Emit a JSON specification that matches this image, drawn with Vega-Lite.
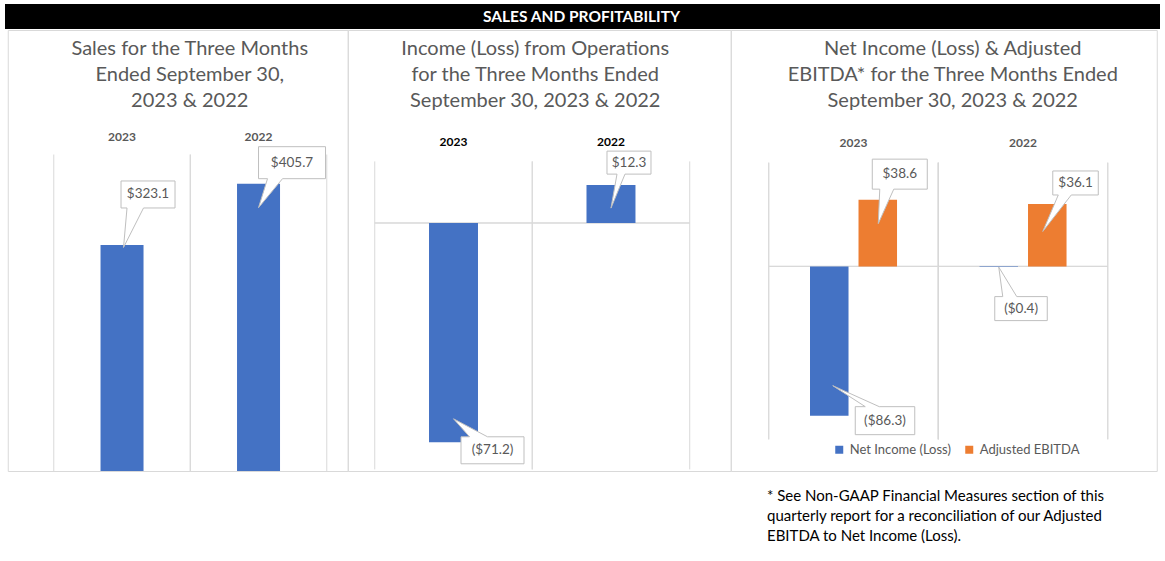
{
  "$schema": "https://vega.github.io/schema/vega-lite/v6.json",
  "background": "white",
  "padding": {"left": 5, "top": 4, "right": 5, "bottom": 5},
  "config": {
    "font": "Lato",
    "view": {"stroke": "#d9d9d9", "strokeWidth": 1},
    "axis": {"labelFont": "Lato"},
    "legend": {"labelFont": "Lato"}
  },
  "title": {
    "text": ["* See Non-GAAP Financial Measures section of this", "quarterly report for a reconciliation of our Adjusted", "EBITDA to Net Income (Loss)."],
    "orient": "bottom",
    "anchor": "start",
    "align": "left",
    "frame": "group",
    "dx": 762,
    "offset": 17,
    "baseline": "top",
    "font": "Lato",
    "fontSize": 15,
    "fontWeight": "normal",
    "color": "#000000",
    "lineHeight": 20
  },
  "spacing": 0,
  "center": true,
  "resolve": {"legend": {"color": "independent"}},
  "vconcat": [
    {
      "width": 1155,
      "height": 25,
      "view": {"fill": "#000000", "stroke": null},
      "data": {"values": [{"t": "SALES AND PROFITABILITY"}]},
      "mark": {"type": "text", "fill": "#ffffff", "font": "Lato", "fontWeight": "bold", "fontSize": 15.5, "baseline": "middle", "align": "center", "dx": -1},
      "encoding": {"text": {"field": "t", "type": "nominal"}}
    },
    {
      "resolve": {"legend": {"color": "independent"}},
      "hconcat": [
        {
          "width": 340,
          "height": 441,
          "view": {"stroke": "#d9d9d9"},
          "title": {
            "text": ["Sales for the Three Months", "Ended September 30,", "2023 & 2022"],
            "offset": -81, "baseline": "top", "lineHeight": 26, "fontSize": 20, "font": "Lato",
            "fontWeight": "normal", "color": "#595959", "anchor": "middle", "dx": 12
          },
          "data": {"values": [{"year": "2023", "value": 323.1}, {"year": "2022", "value": 405.7}]},
          "layer": [
            {
              "mark": {"type": "rule", "color": "#d9d9d9", "clip": true},
              "encoding": {
                "x": {"field": "year", "type": "nominal", "bandPosition": 0, "scale": {"domain": ["2023", "2022"], "paddingInner": 0, "paddingOuter": 0.2454, "align": 0.687},
                  "axis": {"orient": "top", "title": null, "ticks": false, "tickSize": 0, "domain": false, "grid": false, "labelAngle": 0, "labelBaseline": "middle", "labelPadding": 0, "offset": -106, "labelFontSize": 12, "labelFontWeight": "bold", "labelColor": "#595959"}},
                "y": {"datum": 445, "type": "quantitative", "scale": {"domain": [18.5, 612.8], "nice": false, "zero": false}, "axis": null},
                "y2": {"datum": 0}
              }
            },
            {
              "mark": {"type": "rule", "color": "#d9d9d9", "clip": true},
              "encoding": {
                "x": {"field": "year", "type": "nominal", "bandPosition": 1, "scale": {"domain": ["2023", "2022"], "paddingInner": 0, "paddingOuter": 0.2454, "align": 0.687}},
                "y": {"datum": 445, "type": "quantitative", "scale": {"domain": [18.5, 612.8], "nice": false, "zero": false}, "axis": null},
                "y2": {"datum": 0}
              }
            },
            {
              "mark": {"type": "bar", "color": "#4472C4", "width": {"band": 0.315}, "clip": true},
              "encoding": {
                "x": {"field": "year", "type": "nominal", "scale": {"domain": ["2023", "2022"], "paddingInner": 0, "paddingOuter": 0.2454, "align": 0.687}},
                "y": {"field": "value", "type": "quantitative", "scale": {"domain": [18.5, 612.8], "nice": false, "zero": false}, "axis": null}
              }
            },
            {
              "transform": [{"filter": "datum.year == '2023'"}],
              "encoding": {
                "x": {"field": "year", "type": "nominal", "scale": {"domain": ["2023", "2022"], "paddingInner": 0, "paddingOuter": 0.2454, "align": 0.687}},
                "y": {"field": "value", "type": "quantitative", "scale": {"domain": [18.5, 612.8], "nice": false, "zero": false}, "axis": null}
              },
              "layer": [
                {"mark": {"type": "point", "shape": "M-1,-64H53V-37H21.5L1.5,2.5L5,-37H-1Z", "size": 4, "filled": true, "fill": "#ffffff", "stroke": "#bfbfbf", "strokeWidth": 1, "opacity": 1}},
                {"mark": {"type": "text", "dx": 26, "dy": -50.5, "align": "center", "baseline": "middle", "fontSize": 13.5, "font": "Lato", "fill": "#595959"},
                 "encoding": {"text": {"field": "value", "type": "quantitative", "format": "($.1f"}}}
              ]
            },
            {
              "transform": [{"filter": "datum.year == '2022'"}],
              "encoding": {
                "x": {"field": "year", "type": "nominal", "scale": {"domain": ["2023", "2022"], "paddingInner": 0, "paddingOuter": 0.2454, "align": 0.687}},
                "y": {"field": "value", "type": "quantitative", "scale": {"domain": [18.5, 612.8], "nice": false, "zero": false}, "axis": null}
              },
              "layer": [
                {"mark": {"type": "point", "shape": "M0,-37H67V-5H24L0,24L9,-5H0Z", "size": 4, "filled": true, "fill": "#ffffff", "stroke": "#bfbfbf", "strokeWidth": 1, "opacity": 1}},
                {"mark": {"type": "text", "dx": 33.5, "dy": -21, "align": "center", "baseline": "middle", "fontSize": 13.5, "font": "Lato", "fill": "#595959"},
                 "encoding": {"text": {"field": "value", "type": "quantitative", "format": "($.1f"}}}
              ]
            }
          ]
        },
        {
          "width": 383,
          "height": 441,
          "view": {"stroke": "#d9d9d9"},
          "title": {
            "text": ["Income (Loss) from Operations", "for the Three Months Ended", "September 30, 2023 & 2022"],
            "offset": -81, "baseline": "top", "lineHeight": 26, "fontSize": 20, "font": "Lato",
            "fontWeight": "normal", "color": "#595959", "anchor": "middle", "dx": -4
          },
          "data": {"values": [{"year": "2023", "value": -71.2}, {"year": "2022", "value": 12.3}]},
          "layer": [
            {
              "mark": {"type": "rule", "color": "#d9d9d9"},
              "encoding": {
                "x": {"field": "year", "type": "nominal", "bandPosition": 0, "scale": {"domain": ["2023", "2022"], "paddingInner": 0, "paddingOuter": 0.216, "align": 0.397},
                  "axis": {"orient": "top", "title": null, "ticks": false, "tickSize": 0, "domain": false, "grid": false, "labelAngle": 0, "labelBaseline": "middle", "labelPadding": 0, "offset": -111, "labelFontSize": 12, "labelFontWeight": "bold", "labelColor": "#000000"}},
                "y": {"datum": 20, "type": "quantitative", "scale": {"domain": [-80.52, 62.66], "nice": false, "zero": false}, "axis": null},
                "y2": {"datum": -80}
              }
            },
            {
              "mark": {"type": "rule", "color": "#d9d9d9"},
              "encoding": {
                "x": {"field": "year", "type": "nominal", "bandPosition": 1, "scale": {"domain": ["2023", "2022"], "paddingInner": 0, "paddingOuter": 0.216, "align": 0.397}},
                "y": {"datum": 20, "type": "quantitative", "scale": {"domain": [-80.52, 62.66], "nice": false, "zero": false}, "axis": null},
                "y2": {"datum": -80}
              }
            },
            {
              "mark": {"type": "bar", "fillOpacity": 0, "stroke": "#d9d9d9", "strokeWidth": 1, "width": {"band": 1}},
              "encoding": {
                "x": {"field": "year", "type": "nominal", "scale": {"domain": ["2023", "2022"], "paddingInner": 0, "paddingOuter": 0.216, "align": 0.397}},
                "y": {"datum": 0, "type": "quantitative", "scale": {"domain": [-80.52, 62.66], "nice": false, "zero": false}, "axis": null},
                "y2": {"datum": 0}
              }
            },
            {
              "mark": {"type": "bar", "color": "#4472C4", "width": {"band": 0.311}},
              "encoding": {
                "x": {"field": "year", "type": "nominal", "scale": {"domain": ["2023", "2022"], "paddingInner": 0, "paddingOuter": 0.216, "align": 0.397}},
                "y": {"field": "value", "type": "quantitative", "scale": {"domain": [-80.52, 62.66], "nice": false, "zero": false}, "axis": null}
              }
            },
            {
              "transform": [{"filter": "datum.year == '2023'"}],
              "encoding": {
                "x": {"field": "year", "type": "nominal", "scale": {"domain": ["2023", "2022"], "paddingInner": 0, "paddingOuter": 0.216, "align": 0.397}},
                "y": {"field": "value", "type": "quantitative", "scale": {"domain": [-80.52, 62.66], "nice": false, "zero": false}, "axis": null}
              },
              "layer": [
                {"mark": {"type": "point", "shape": "M7.5,-5.5H16L0,-23.5L34,-5.5H70.5V21.5H7.5Z", "size": 4, "filled": true, "fill": "#ffffff", "stroke": "#bfbfbf", "strokeWidth": 1, "opacity": 1}},
                {"mark": {"type": "text", "dx": 39, "dy": 8, "align": "center", "baseline": "middle", "fontSize": 13.5, "font": "Lato", "fill": "#595959"},
                 "encoding": {"text": {"field": "value", "type": "quantitative", "format": "($.1f"}}}
              ]
            },
            {
              "transform": [{"filter": "datum.year == '2022'"}],
              "encoding": {
                "x": {"field": "year", "type": "nominal", "scale": {"domain": ["2023", "2022"], "paddingInner": 0, "paddingOuter": 0.216, "align": 0.397}},
                "y": {"field": "value", "type": "quantitative", "scale": {"domain": [-80.52, 62.66], "nice": false, "zero": false}, "axis": null}
              },
              "layer": [
                {"mark": {"type": "point", "shape": "M-4,-34H40V-11H14L0,23L6,-11H-4Z", "size": 4, "filled": true, "fill": "#ffffff", "stroke": "#bfbfbf", "strokeWidth": 1, "opacity": 1}},
                {"mark": {"type": "text", "dx": 18, "dy": -22.5, "align": "center", "baseline": "middle", "fontSize": 13.5, "font": "Lato", "fill": "#595959"},
                 "encoding": {"text": {"field": "value", "type": "quantitative", "format": "($.1f"}}}
              ]
            }
          ]
        },
        {
          "width": 426,
          "height": 441,
          "view": {"stroke": "#d9d9d9"},
          "title": {
            "text": ["Net Income (Loss) & Adjusted", "EBITDA* for the Three Months Ended", "September 30, 2023 & 2022"],
            "offset": -81, "baseline": "top", "lineHeight": 26, "fontSize": 20, "font": "Lato",
            "fontWeight": "normal", "color": "#595959", "anchor": "middle", "dx": 9
          },
          "data": {"values": [
            {"year": "2023", "measure": "Net Income (Loss)", "value": -86.3},
            {"year": "2023", "measure": "Adjusted EBITDA", "value": 38.6},
            {"year": "2022", "measure": "Net Income (Loss)", "value": -0.4},
            {"year": "2022", "measure": "Adjusted EBITDA", "value": 36.1}
          ]},
          "layer": [
            {
              "mark": {"type": "rule", "color": "#d9d9d9"},
              "encoding": {
                "x": {"field": "year", "type": "nominal", "bandPosition": 0, "scale": {"domain": ["2023", "2022"], "paddingInner": 0, "paddingOuter": 0.2566, "align": 0.437},
                  "axis": {"orient": "top", "title": null, "ticks": false, "tickSize": 0, "domain": false, "grid": false, "labelAngle": 0, "labelBaseline": "middle", "labelPadding": 0, "offset": -112, "labelFontSize": 12, "labelFontWeight": "bold", "labelColor": "#595959"}},
                "y": {"datum": 60, "type": "quantitative", "scale": {"domain": [-118.3, 136.7], "nice": false, "zero": false}, "axis": null},
                "y2": {"datum": -100}
              }
            },
            {
              "mark": {"type": "rule", "color": "#d9d9d9"},
              "encoding": {
                "x": {"field": "year", "type": "nominal", "bandPosition": 1, "scale": {"domain": ["2023", "2022"], "paddingInner": 0, "paddingOuter": 0.2566, "align": 0.437}},
                "y": {"datum": 60, "type": "quantitative", "scale": {"domain": [-118.3, 136.7], "nice": false, "zero": false}, "axis": null},
                "y2": {"datum": -100}
              }
            },
            {
              "mark": {"type": "bar", "fillOpacity": 0, "stroke": "#d9d9d9", "strokeWidth": 1, "width": {"band": 1}},
              "encoding": {
                "x": {"field": "year", "type": "nominal", "scale": {"domain": ["2023", "2022"], "paddingInner": 0, "paddingOuter": 0.2566, "align": 0.437}},
                "y": {"datum": 0, "type": "quantitative", "scale": {"domain": [-118.3, 136.7], "nice": false, "zero": false}, "axis": null},
                "y2": {"datum": 0}
              }
            },
            {
              "mark": {"type": "bar"},
              "encoding": {
                "x": {"field": "year", "type": "nominal", "scale": {"domain": ["2023", "2022"], "paddingInner": 0, "paddingOuter": 0.2566, "align": 0.437}},
                "xOffset": {"field": "measure", "type": "nominal", "scale": {"domain": ["Net Income (Loss)", "Adjusted EBITDA"], "paddingInner": 0.206, "paddingOuter": 0.85}},
                "y": {"field": "value", "type": "quantitative", "scale": {"domain": [-118.3, 136.7], "nice": false, "zero": false}, "axis": null},
                "color": {"field": "measure", "type": "nominal",
                  "scale": {"domain": ["Net Income (Loss)", "Adjusted EBITDA"], "range": ["#4472C4", "#ED7D31"]},
                  "legend": {"orient": "none", "legendX": 102, "legendY": 413, "direction": "horizontal", "title": null, "symbolType": "square", "symbolSize": 64, "symbolStrokeWidth": 0, "symbolOpacity": 1, "labelFontSize": 13, "labelColor": "#595959", "labelOffset": 4, "columnPadding": 11, "padding": 0}}
              }
            },
            {
              "transform": [{"filter": "datum.year == '2023' && datum.measure == 'Net Income (Loss)'"}],
              "encoding": {
                "x": {"field": "year", "type": "nominal", "scale": {"domain": ["2023", "2022"], "paddingInner": 0, "paddingOuter": 0.2566, "align": 0.437}},
                "xOffset": {"field": "measure", "type": "nominal", "scale": {"domain": ["Net Income (Loss)", "Adjusted EBITDA"], "paddingInner": 0.206, "paddingOuter": 0.85}},
                "y": {"field": "value", "type": "quantitative", "scale": {"domain": [-118.3, 136.7], "nice": false, "zero": false}, "axis": null}
              },
              "layer": [
                {"mark": {"type": "point", "shape": "M26,-9H36L3.5,-30L50,-9H85.5V19H26Z", "size": 4, "filled": true, "fill": "#ffffff", "stroke": "#bfbfbf", "strokeWidth": 1, "opacity": 1}},
                {"mark": {"type": "text", "dx": 55.7, "dy": 5, "align": "center", "baseline": "middle", "fontSize": 13.5, "font": "Lato", "fill": "#595959"},
                 "encoding": {"text": {"field": "value", "type": "quantitative", "format": "($.1f"}}}
              ]
            },
            {
              "transform": [{"filter": "datum.year == '2023' && datum.measure == 'Adjusted EBITDA'"}],
              "encoding": {
                "x": {"field": "year", "type": "nominal", "scale": {"domain": ["2023", "2022"], "paddingInner": 0, "paddingOuter": 0.2566, "align": 0.437}},
                "xOffset": {"field": "measure", "type": "nominal", "scale": {"domain": ["Net Income (Loss)", "Adjusted EBITDA"], "paddingInner": 0.206, "paddingOuter": 0.85}},
                "y": {"field": "value", "type": "quantitative", "scale": {"domain": [-118.3, 136.7], "nice": false, "zero": false}, "axis": null}
              },
              "layer": [
                {"mark": {"type": "point", "shape": "M-5.5,-40.5H49.5V-10.5H16L0.5,24L2,-10.5H-5.5Z", "size": 4, "filled": true, "fill": "#ffffff", "stroke": "#bfbfbf", "strokeWidth": 1, "opacity": 1}},
                {"mark": {"type": "text", "dx": 22, "dy": -25.5, "align": "center", "baseline": "middle", "fontSize": 13.5, "font": "Lato", "fill": "#595959"},
                 "encoding": {"text": {"field": "value", "type": "quantitative", "format": "($.1f"}}}
              ]
            },
            {
              "transform": [{"filter": "datum.year == '2022' && datum.measure == 'Net Income (Loss)'"}],
              "encoding": {
                "x": {"field": "year", "type": "nominal", "scale": {"domain": ["2023", "2022"], "paddingInner": 0, "paddingOuter": 0.2566, "align": 0.437}},
                "xOffset": {"field": "measure", "type": "nominal", "scale": {"domain": ["Net Income (Loss)", "Adjusted EBITDA"], "paddingInner": 0.206, "paddingOuter": 0.85}},
                "y": {"field": "value", "type": "quantitative", "scale": {"domain": [-118.3, 136.7], "nice": false, "zero": false}, "axis": null}
              },
              "layer": [
                {"mark": {"type": "point", "shape": "M-4,29.5H4L0,0L18,29.5H48.5V53.5H-4Z", "size": 4, "filled": true, "fill": "#ffffff", "stroke": "#bfbfbf", "strokeWidth": 1, "opacity": 1}},
                {"mark": {"type": "text", "dx": 22.3, "dy": 41.5, "align": "center", "baseline": "middle", "fontSize": 13.5, "font": "Lato", "fill": "#595959"},
                 "encoding": {"text": {"field": "value", "type": "quantitative", "format": "($.1f"}}}
              ]
            },
            {
              "transform": [{"filter": "datum.year == '2022' && datum.measure == 'Adjusted EBITDA'"}],
              "encoding": {
                "x": {"field": "year", "type": "nominal", "scale": {"domain": ["2023", "2022"], "paddingInner": 0, "paddingOuter": 0.2566, "align": 0.437}},
                "xOffset": {"field": "measure", "type": "nominal", "scale": {"domain": ["Net Income (Loss)", "Adjusted EBITDA"], "paddingInner": 0.206, "paddingOuter": 0.85}},
                "y": {"field": "value", "type": "quantitative", "scale": {"domain": [-118.3, 136.7], "nice": false, "zero": false}, "axis": null}
              },
              "layer": [
                {"mark": {"type": "point", "shape": "M5.5,-33H51V-9H24L-4.5,27.5L11,-9H5.5Z", "size": 4, "filled": true, "fill": "#ffffff", "stroke": "#bfbfbf", "strokeWidth": 1, "opacity": 1}},
                {"mark": {"type": "text", "dx": 28.3, "dy": -21, "align": "center", "baseline": "middle", "fontSize": 13.5, "font": "Lato", "fill": "#595959"},
                 "encoding": {"text": {"field": "value", "type": "quantitative", "format": "($.1f"}}}
              ]
            }
          ]
        }
      ],
      "spacing": 0,
      "bounds": "flush"
    }
  ]
}
